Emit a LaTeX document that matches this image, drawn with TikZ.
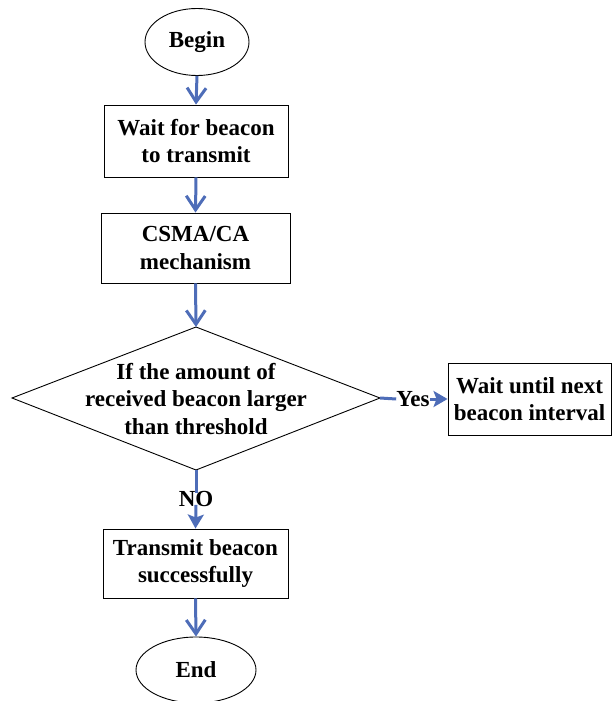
\documentclass[tikz,border=0pt]{standalone}
\usepackage{fontspec}
\setmainfont{Liberation Serif}
\usetikzlibrary{arrows.meta,shapes.geometric}
\definecolor{flowblue}{HTML}{4E6DB8}
\begin{document}
\begin{tikzpicture}[x=1pt,y=-1pt,
  every node/.style={font=\bfseries\fontsize{23}{27.5}\selectfont, align=center, inner sep=0pt},
  term/.style={draw=black, line width=0.9pt, ellipse},
  procbox/.style={draw=black, line width=0.9pt, rectangle},
  openarr/.style={draw=flowblue, line width=3pt, -{Straight Barb[length=14pt,width=19pt,line width=3pt]}},
  fillarr/.style={draw=flowblue, line width=3pt, -{Stealth[length=14pt,width=16pt,inset=3pt]}},
  plainline/.style={draw=flowblue, line width=3pt}]
\useasboundingbox (0,0) rectangle (611,701);
\node[term, minimum width=104pt, minimum height=67pt] (begin) at (197,42) {Begin};
\node[procbox, minimum width=184pt, minimum height=72pt] (wait) at (196,141) {Wait for beacon\\to transmit};
\node[procbox, minimum width=189pt, minimum height=70pt] (csma) at (195.5,248) {CSMA/CA\\mechanism};
\path[draw=black, line width=0.9pt] (196,327) coordinate (dtop) -- (380,398) coordinate (dright) -- (196,470) coordinate (dbot) -- (12,398) -- cycle;
\node (dtext) at (196,399) {If the amount of\\received beacon larger\\than threshold};
\node[procbox, minimum width=163pt, minimum height=72pt] (next) at (529.5,399) {Wait until next\\beacon interval};
\node (yes) at (413,399) {Yes};
\node (no) at (196,499) {NO};
\node[procbox, minimum width=185pt, minimum height=69pt] (tx) at (195.5,563.5) {Transmit beacon\\successfully};
\node[term, minimum width=120pt, minimum height=66pt] (end) at (196,670) {End};
\draw[openarr] (begin.south) -- (wait.north);
\draw[openarr] (wait.south) -- (csma.north);
\draw[openarr] (csma.south) -- (dtop);
\draw[plainline] (dright) -- (yes.west);
\draw[fillarr] (yes.east) -- (next.west);
\draw[plainline] (dbot) -- ([yshift=-2pt]no.north);
\draw[fillarr] ([yshift=2pt]no.south) -- (tx.north);
\draw[openarr] (tx.south) -- (end.north);
\end{tikzpicture}
\end{document}
